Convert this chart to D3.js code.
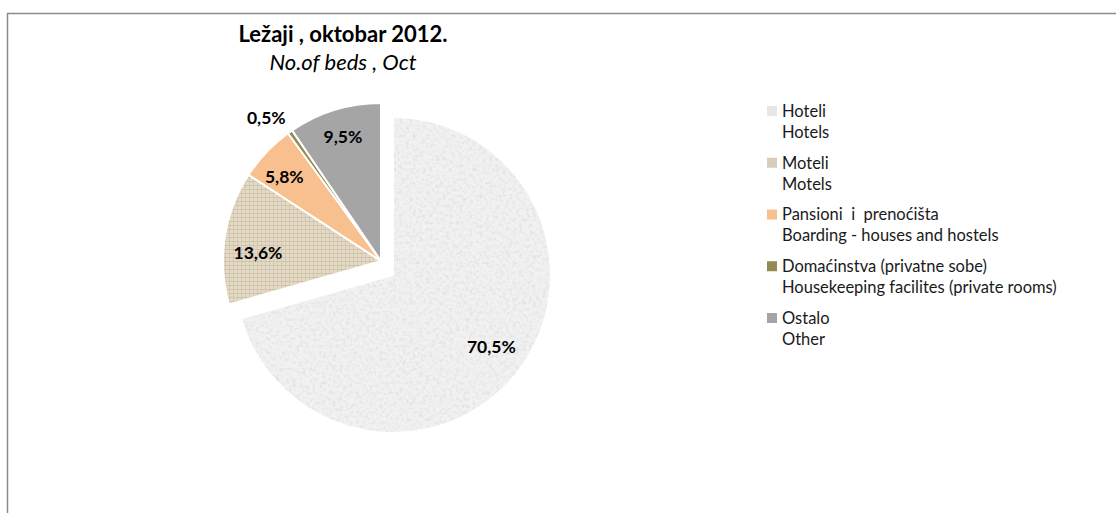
<!DOCTYPE html>
<html>
<head>
<meta charset="utf-8">
<script src="https://cdn.jsdelivr.net/npm/d3@7"></script>
<style>
	body {margin:0; background:#fff;}
	svg {display:block; font-family:Lato, "Open Sans", "DejaVu Sans", sans-serif;}
</style>
</head>
<body>
<div id="ChartDiv"></div>
<script>
/* globals d3 */

// Data
var CategoriesLocal = ["Hoteli", "Moteli", "Pansioni  i  prenoćišta", "Domaćinstva (privatne sobe)", "Ostalo"];
var CategoriesEnglish = ["Hotels", "Motels", "Boarding - houses and hostels", "Housekeeping facilites (private rooms)", "Other"];
var BedShares = [70.5, 13.6, 5.8, 0.5, 9.5];
var ShareLabels = ["70,5%", "13,6%", "5,8%", "0,5%", "9,5%"];
var SliceFills = ["url(#StoneFill)", "url(#LinenFill)", "#f9c08f", "#948a54", "#a5a5a5"];
var SwatchFills = ["#e6e6e6", "#d8cdb8", "#f9c08f", "#948a54", "#a5a5a5"];

var Width = 1116, Height = 513;
var PieCenter = {x:381, y:261}, Radius = 158;
var Explode = {x:12, y:14};		//Hotels slice is pulled out of the pie
var LabelRadius = [0.77, 0.78, 0.81, 1.16, 0.82];
var LabelTurn = [-1, -5, -2.6, -3.6, 0];		//degrees, to sit the labels where Excel put them

var svg = d3.select("#ChartDiv").append("svg").attr("width", Width).attr("height", Height);

// Textures for the first two slices
var defs = svg.append("defs");
var Noise = defs.append("filter").attr("id", "NoiseFilter").attr("x", 0).attr("y", 0).attr("width", 1).attr("height", 1);
Noise.append("feTurbulence").attr("type", "fractalNoise").attr("baseFrequency", 0.3).attr("numOctaves", 3).attr("seed", 7).attr("result", "t");
Noise.append("feColorMatrix").attr("in", "t").attr("type", "matrix")
	.attr("values", "0 0 0 0 0.6  0 0 0 0 0.6  0 0 0 0 0.6  1.1 0 0 0 -0.5");

var Stone = defs.append("pattern").attr("id", "StoneFill").attr("patternUnits", "userSpaceOnUse")
	.attr("width", 320).attr("height", 320);
Stone.append("rect").attr("width", 320).attr("height", 320).attr("fill", "#f1f1f1");
Stone.append("rect").attr("width", 320).attr("height", 320).attr("filter", "url(#NoiseFilter)");

var Linen = defs.append("pattern").attr("id", "LinenFill").attr("patternUnits", "userSpaceOnUse")
	.attr("width", 4).attr("height", 4);
Linen.append("rect").attr("width", 4).attr("height", 4).attr("fill", "#e2d9c6");
Linen.append("rect").attr("width", 4).attr("height", 1).attr("fill", "#c2b394").attr("opacity", 0.5);
Linen.append("rect").attr("width", 1).attr("height", 4).attr("fill", "#c2b394").attr("opacity", 0.4);

// Frame (only top and left edges fall inside the picture)
svg.append("path").attr("d", "M7.5," + Height + "V13.5H" + Width)
	.attr("fill", "none").attr("stroke", "#8c8c8c").attr("stroke-width", 1.5);

// Title
svg.append("text").attr("x", 343).attr("y", 42).attr("text-anchor", "middle")
	.attr("font-size", 22).attr("font-weight", "bold").attr("fill", "#000").text("Ležaji , oktobar 2012.");
svg.append("text").attr("x", 343).attr("y", 70).attr("text-anchor", "middle")
	.attr("font-size", 22).attr("font-style", "italic").attr("fill", "#000").text("No.of beds , Oct");

// Pie
var pie = d3.pie().sort(null).value(function(d) {return d;});
var arc = d3.arc().innerRadius(0).outerRadius(Radius);
var Slices = pie(BedShares);

var PieG = svg.append("g").attr("transform", "translate(" + PieCenter.x + "," + PieCenter.y + ")");

PieG.selectAll("path.slice")
	.data(Slices)
	.enter().append("path")
	.attr("class", "slice")
	.attr("transform", function(d, i) {return i === 0 ? "translate(" + Explode.x + "," + Explode.y + ")" : null;})
	.attr("d", arc)
	.attr("fill", function(d, i) {return SliceFills[i];})
	.attr("stroke", "#fff")
	.attr("stroke-width", 2)
	.attr("stroke-linejoin", "round");

PieG.selectAll("text.share")
	.data(Slices)
	.enter().append("text")
	.attr("class", "share")
	.attr("transform", function(d, i) {
		var a = (d.startAngle + d.endAngle) / 2 + LabelTurn[i] * Math.PI / 180, r = Radius * LabelRadius[i];
		var x = Math.sin(a) * r + (i === 0 ? Explode.x : 0);
		var y = -Math.cos(a) * r + (i === 0 ? Explode.y : 0);
		return "translate(" + x + "," + y + ")";
	})
	.attr("text-anchor", "middle")
	.attr("dy", "0.35em")
	.attr("font-size", 17.5)
	.attr("font-weight", "bold")
	.attr("fill", "#000")
	.text(function(d, i) {return ShareLabels[i];});

// Legend
var LegendY = d3.scalePoint().domain(d3.range(CategoriesLocal.length)).range([111, 318]);
var Legend = svg.append("g").attr("font-size", 16.5).attr("fill", "#1a1a1a");
var Items = Legend.selectAll("g")
	.data(CategoriesLocal)
	.enter().append("g")
	.attr("transform", function(d, i) {return "translate(767," + LegendY(i) + ")";});

Items.append("rect").attr("x", 0).attr("y", -5).attr("width", 10).attr("height", 10)
	.attr("fill", function(d, i) {return SwatchFills[i];});
Items.append("text").attr("x", 15).attr("dy", "0.35em").style("white-space", "pre").text(function(d) {return d;});
Items.append("text").attr("x", 15).attr("y", 21).attr("dy", "0.35em").text(function(d, i) {return CategoriesEnglish[i];});
</script>
</body>
</html>
